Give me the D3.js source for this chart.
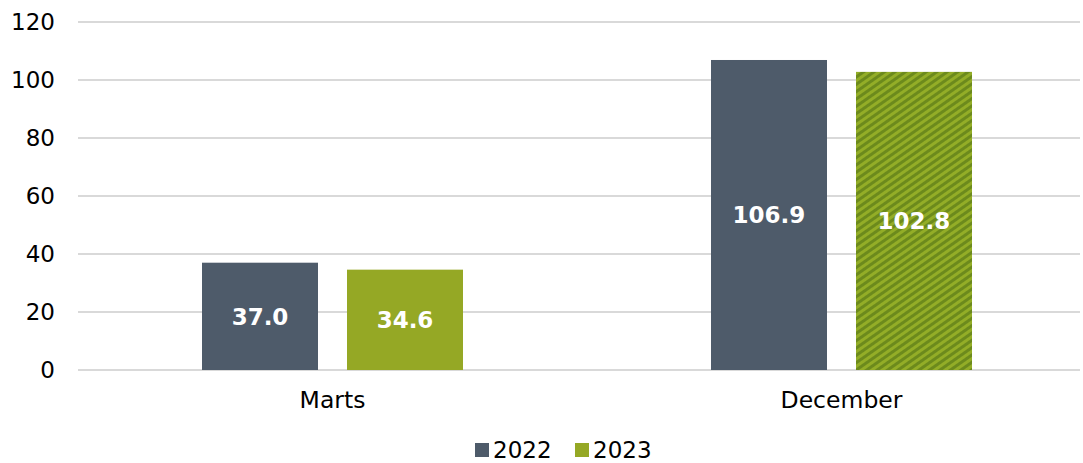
<!DOCTYPE html>
<html>
<head>
<meta charset="utf-8">
<script src="https://cdn.jsdelivr.net/npm/d3@7"></script>
<style>
  body { margin: 0; background: #fff; }
  text { font-family: "DejaVu Sans", Verdana, sans-serif; }
</style>
</head>
<body>
<div id="chart"></div>
<script>
// Data
const categories = ["Marts", "December"];
const seriesNames = ["2022", "2023"];
const values2022 = [37.0, 106.9];
const values2023 = [34.6, 102.8];
const yTicks = [0, 20, 40, 60, 80, 100, 120];

const colors = { "2022": "#4e5b6a", "2023": "#95a825" };

const W = 1083, H = 463;
const margin = { top: 22, left: 78, bottom: 93 };
const plotH = H - margin.top - margin.bottom; // 348

const svg = d3.select("#chart").append("svg")
    .attr("width", W)
    .attr("height", H);

// hatch pattern for the December 2023 bar
const defs = svg.append("defs");
const pat = defs.append("pattern")
    .attr("id", "hatch")
    .attr("patternUnits", "userSpaceOnUse")
    .attr("width", 6)
    .attr("height", 6)
    .attr("patternTransform", "rotate(-35)");
pat.append("rect").attr("width", 6).attr("height", 6).attr("fill", "#93ad27");
pat.append("rect").attr("width", 6).attr("height", 3).attr("fill", "#6c8a1c");

const g = svg.append("g").attr("transform", `translate(${margin.left},${margin.top})`);

const y = d3.scaleLinear().domain([0, 120]).range([plotH, 0]);
const x0 = d3.scaleBand().domain(categories).range([0, 1018]);
const x1 = d3.scaleBand().domain(seriesNames).range([124, 385]).paddingInner(0.2).paddingOuter(0);

// gridlines
g.selectAll(".grid")
    .data(yTicks)
    .join("line")
    .attr("class", "grid")
    .attr("x1", 0)
    .attr("x2", 1002)
    .attr("y1", d => y(d))
    .attr("y2", d => y(d))
    .attr("stroke", "#d9d9d9")
    .attr("stroke-width", 2);

// y axis labels
const yAxis = g.append("g")
    .call(d3.axisLeft(y).tickValues(yTicks).tickSize(0).tickPadding(23));
yAxis.select(".domain").remove();
yAxis.selectAll("text")
    .style("font-family", "'DejaVu Sans', Verdana, sans-serif")
    .style("font-size", "23px")
    .attr("fill", "#000");

// x axis labels
const xAxis = g.append("g")
    .attr("transform", `translate(0,${plotH})`)
    .call(d3.axisBottom(x0).tickSize(0).tickPadding(21));
xAxis.select(".domain").remove();
xAxis.selectAll("text")
    .style("font-family", "'DejaVu Sans', Verdana, sans-serif")
    .style("font-size", "23.5px")
    .attr("fill", "#000");

const rows = categories.map((c, i) => ({
    category: c,
    items: [
        { series: "2022", value: values2022[i] },
        { series: "2023", value: values2023[i] }
    ]
}));

const groups = g.selectAll(".group")
    .data(rows)
    .join("g")
    .attr("class", "group")
    .attr("transform", d => `translate(${x0(d.category)},0)`);

groups.selectAll("rect")
    .data(d => d.items.map(it => ({ ...it, category: d.category })))
    .join("rect")
    .attr("x", d => x1(d.series))
    .attr("width", x1.bandwidth())
    .attr("y", d => y(d.value))
    .attr("height", d => plotH - y(d.value))
    .attr("fill", d => (d.category === "December" && d.series === "2023") ? "url(#hatch)" : colors[d.series]);

// value labels in the middle of each bar
groups.selectAll(".val")
    .data(d => d.items)
    .join("text")
    .attr("class", "val")
    .attr("x", d => x1(d.series) + x1.bandwidth() / 2)
    .attr("y", d => (y(d.value) + plotH) / 2)
    .attr("dy", "0.36em")
    .attr("text-anchor", "middle")
    .attr("fill", "#fff")
    .style("font-size", "23px")
    .style("font-weight", "bold")
    .text(d => d.value.toFixed(1));

// legend
const legend = svg.append("g").attr("transform", "translate(475,443)");
const li = legend.selectAll(".li")
    .data(seriesNames)
    .join("g")
    .attr("class", "li")
    .attr("transform", (d, i) => `translate(${i * 100},0)`);
li.append("rect")
    .attr("width", 14)
    .attr("height", 14)
    .attr("fill", d => colors[d]);
li.append("text")
    .attr("x", 18)
    .attr("y", 7)
    .attr("dy", "0.34em")
    .style("font-size", "23px")
    .attr("fill", "#000")
    .text(d => d);
</script>
</body>
</html>
